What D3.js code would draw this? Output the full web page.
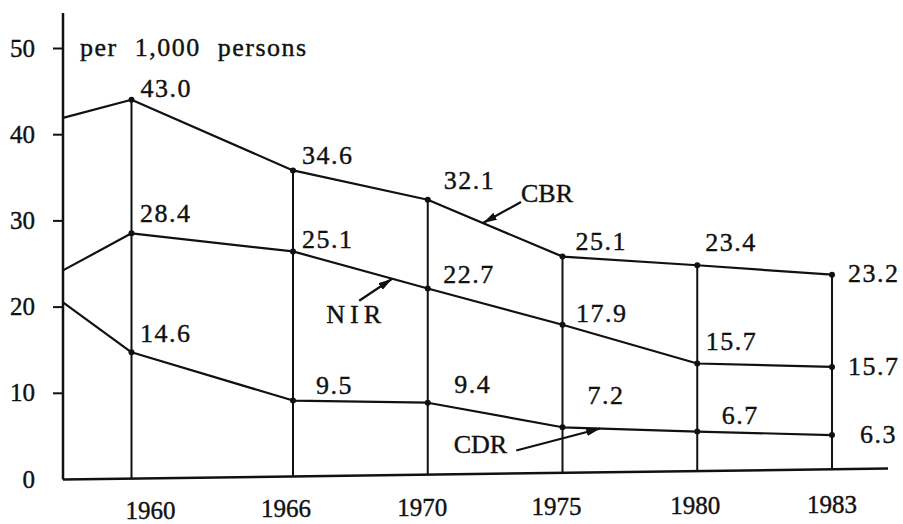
<!DOCTYPE html>
<html>
<head>
<meta charset="utf-8">
<script src="https://cdn.jsdelivr.net/npm/d3@7"></script>
<style>
  body { margin: 0; background: #ffffff; }
  svg { display: block; }
</style>
</head>
<body>
<svg class="d3-vital-rates-svg"></svg>
<script>
/* -------------------------------------------------------------------------- */
/*                               Chart data                                   */
/* -------------------------------------------------------------------------- */

const years = ['1960', '1966', '1970', '1975', '1980', '1983'];
const yTicks = [0, 10, 20, 30, 40, 50];
const unitLabel = 'per 1,000 persons';

// where the curves sit in the figure
const cbrValues = [44.0, 35.8, 32.4, 25.8, 24.8, 23.7];
const nirValues = [28.5, 26.4, 22.1, 17.9, 13.4, 13.0];
const cdrValues = [14.7, 9.1, 8.85, 6.0, 5.5, 5.1];

// value where each curve meets the vertical axis (before 1960)
const cbrLead = 41.9;
const nirLead = 24.2;
const cdrLead = 20.5;

// numbers printed next to the points
const cbrLabels = ['43.0', '34.6', '32.1', '25.1', '23.4', '23.2'];
const nirLabels = ['28.4', '25.1', '22.7', '17.9', '15.7', '15.7'];
const cdrLabels = ['14.6', '9.5', '9.4', '7.2', '6.7', '6.3'];

/* -------------------------------------------------------------------------- */
/*                               Drawing                                      */
/* -------------------------------------------------------------------------- */

const vitalRatesInit = () => {
  const width = 903;
  const height = 524;
  const ink = '#111111';
  const serif = '"Liberation Serif", "Times New Roman", serif';

  const axisX = 63;
  const axisTop = 13;
  const axisRight = 888;
  const tilt = 11 / 825; // the base line rises a little to the right

  const svg = d3
    .select('.d3-vital-rates-svg')
    .attr('width', width)
    .attr('height', height);

  const x = d3.scaleLinear().domain([0, 1, 5]).range([131.5, 293, 832]);
  const y = d3.scaleLinear().domain([0, 50]).range([479, 48]);
  const baseY = (px) => y(0) + 0.5 - tilt * (px - axisX);

  // printed text looks a bit heavy, so give it a thin outline
  const inkText = (sel, size) =>
    sel
      .style('font-family', serif)
      .style('font-size', `${size}px`)
      .style('fill', ink)
      .style('stroke', ink)
      .style('stroke-width', 0.4);

  const series = [
    {
      name: 'CBR', values: cbrValues, lead: cbrLead, labels: cbrLabels,
      offsets: [[9, -3], [9, -6], [16, -11], [13, -7], [8, -14], [16, 7]],
      note: { seg: 2, t: 0.41, tail: [38, -21], text: [0, 0], anchor: 'start', spacing: 0 },
    },
    {
      name: 'NIR', values: nirValues, lead: nirLead, labels: nirLabels,
      offsets: [[8.5, -11], [9, -3], [15.5, -5], [13.5, -3], [8.5, -13], [16, 8]],
      note: { seg: 1, t: 0.736, tail: [-33, 22], text: [-3, 22], anchor: 'middle', spacing: 5 },
    },
    {
      name: 'CDR', values: cdrValues, lead: cdrLead, labels: cdrLabels,
      offsets: [[8.5, -10], [23, -7], [26.5, -9.5], [25, -23], [24.5, -8], [28, 8]],
      note: { seg: 3, t: 0.28, tail: [-84, 22], text: [-9, 3], anchor: 'end', spacing: 0 },
    },
  ];

  svg
    .append('defs')
    .append('marker')
    .attr('id', 'arrow-head')
    .attr('markerUnits', 'userSpaceOnUse')
    .attr('markerWidth', 15)
    .attr('markerHeight', 9)
    .attr('refX', 14)
    .attr('refY', 4.5)
    .attr('orient', 'auto')
    .append('path')
    .attr('d', 'M0,0.5 L14,4.5 L0,8.5 Z')
    .style('fill', ink);

  // vertical year lines, from CBR down to the base line
  svg
    .append('g')
    .selectAll('line')
    .data(cbrValues)
    .enter()
    .append('line')
    .attr('x1', (d, i) => x(i))
    .attr('x2', (d, i) => x(i))
    .attr('y1', (d) => y(d))
    .attr('y2', (d, i) => baseY(x(i)))
    .style('stroke', ink)
    .style('stroke-width', 2);

  // y axis
  const yAxis = d3
    .axisLeft(y)
    .tickValues(yTicks)
    .tickSize(10)
    .tickPadding(18)
    .tickFormat(d3.format('d'));

  const yAxisG = svg
    .append('g')
    .attr('transform', `translate(${axisX},0)`)
    .call(yAxis);

  yAxisG.select('.domain').remove();
  yAxisG
    .selectAll('.tick line')
    .style('stroke', ink)
    .style('stroke-width', 2)
    .filter((d) => d === 0)
    .remove();
  inkText(yAxisG.selectAll('.tick text'), 25);

  svg
    .append('line')
    .attr('x1', axisX)
    .attr('x2', axisX)
    .attr('y1', axisTop)
    .attr('y2', baseY(axisX))
    .style('stroke', ink)
    .style('stroke-width', 2.5);

  // base line
  svg
    .append('line')
    .attr('x1', axisX)
    .attr('x2', axisRight)
    .attr('y1', baseY(axisX))
    .attr('y2', baseY(axisRight))
    .style('stroke', ink)
    .style('stroke-width', 2.5);

  // year labels
  const yearShift = [19, -7, -5.5, -6, -2, 0];
  svg
    .append('g')
    .selectAll('text')
    .data(years)
    .enter()
    .append('text')
    .attr('x', (d, i) => x(i) + yearShift[i])
    .attr('y', (d, i) => 518.5 - 0.008 * (x(i) - x(0)))
    .attr('text-anchor', 'middle')
    .call(inkText, 25)
    .text((d) => d);

  svg
    .append('text')
    .attr('x', 80)
    .attr('y', y(50) + 8)
    .call(inkText, 26)
    .style('letter-spacing', '1.5px')
    .style('word-spacing', '9px')
    .text(unitLabel);

  const line = d3.line();

  series.forEach((s) => {
    const pts = s.values.map((v, i) => [x(i), y(v)]);

    svg
      .append('path')
      .attr('d', line([[axisX, y(s.lead)], ...pts]))
      .style('fill', 'none')
      .style('stroke', ink)
      .style('stroke-width', 2.2)
      .style('stroke-linejoin', 'round');

    svg
      .append('g')
      .selectAll('circle')
      .data(pts)
      .enter()
      .append('circle')
      .attr('cx', (d) => d[0])
      .attr('cy', (d) => d[1])
      .attr('r', 3)
      .style('fill', ink);

    svg
      .append('g')
      .selectAll('text')
      .data(s.labels)
      .enter()
      .append('text')
      .attr('x', (d, i) => pts[i][0] + s.offsets[i][0])
      .attr('y', (d, i) => pts[i][1] + s.offsets[i][1])
      .call(inkText, 26)
      .style('letter-spacing', '1.5px')
      .text((d) => d);

    // arrow pointing at the curve, with the series name
    const n = s.note;
    const a = pts[n.seg];
    const b = pts[n.seg + 1];
    const tip = [a[0] + (b[0] - a[0]) * n.t, a[1] + (b[1] - a[1]) * n.t];
    const tail = [tip[0] + n.tail[0], tip[1] + n.tail[1]];

    svg
      .append('line')
      .attr('x1', tail[0])
      .attr('y1', tail[1])
      .attr('x2', tip[0])
      .attr('y2', tip[1])
      .attr('marker-end', 'url(#arrow-head)')
      .style('stroke', ink)
      .style('stroke-width', 2.2);

    svg
      .append('text')
      .attr('x', tail[0] + n.text[0])
      .attr('y', tail[1] + n.text[1])
      .attr('text-anchor', n.anchor)
      .call(inkText, 26)
      .style('letter-spacing', `${n.spacing}px`)
      .text(s.name);
  });
};

vitalRatesInit();
</script>
</body>
</html>
